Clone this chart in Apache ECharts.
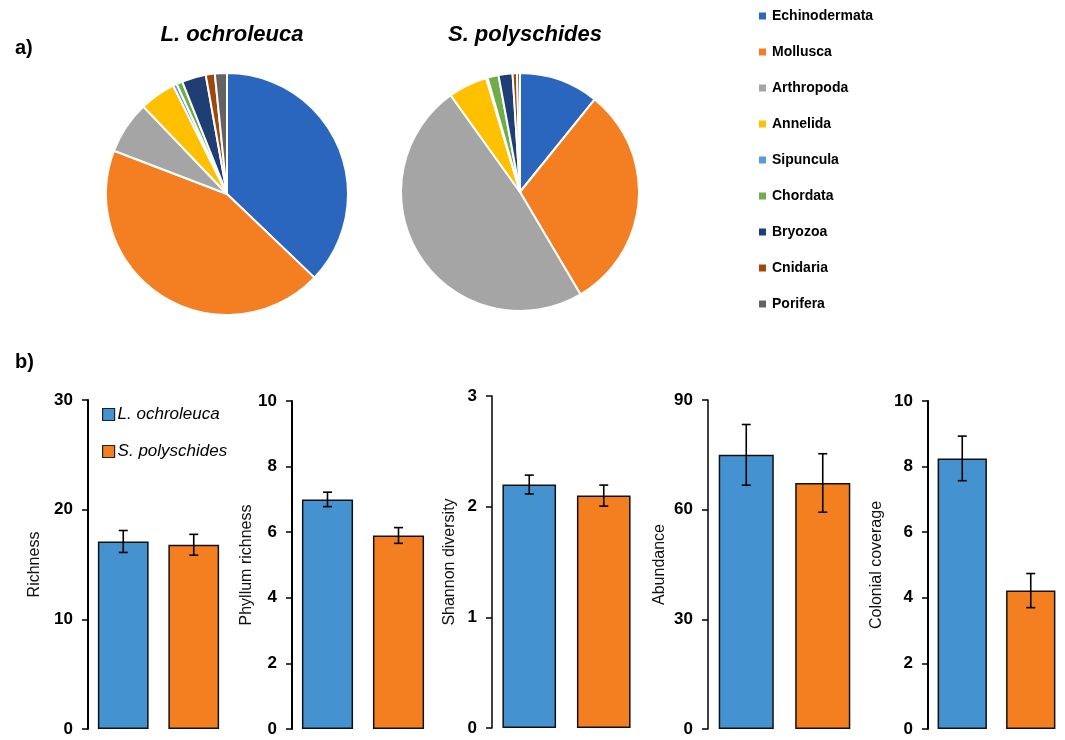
<!DOCTYPE html>
<html>
<head>
<meta charset="utf-8">
<script src="https://cdn.jsdelivr.net/npm/echarts@6/dist/echarts.min.js"></script>
<style>
  html, body { margin: 0; padding: 0; background: #fff; }
  #chart { width: 1065px; height: 740px; }
</style>
</head>
<body>
<div id="chart"></div>
<script>
// Phylum composition (% of individuals) for each kelp host
const phyla = ['Echinodermata', 'Mollusca', 'Arthropoda', 'Annelida', 'Sipuncula', 'Chordata', 'Bryozoa', 'Cnidaria', 'Porifera'];
const ochroShare = [37.0, 43.5, 7.0, 4.8, 0.5, 0.8, 3.2, 1.2, 1.6];
const polyShare = [10.8, 30.7, 48.6, 5.3, 0.2, 1.5, 1.9, 0.6, 0.4];
const phylumColors = ['#2B66BE', '#F47E22', '#A5A5A5', '#FFC000', '#5B9BD5', '#70AD47', '#1F3F74', '#9E480E', '#636363'];

// Community metrics (mean ± SE)
const hosts = ['L. ochroleuca', 'S. polyschides'];
const metrics = ['Richness', 'Phyllum richness', 'Shannon diversity', 'Abundance', 'Colonial coverage'];
const ochroMean = [17.1, 7.0, 2.2, 75.0, 8.25];
const ochroErr = [1.0, 0.22, 0.085, 8.3, 0.68];
const polyMean = [16.8, 5.9, 2.1, 67.3, 4.22];
const polyErr = [0.95, 0.24, 0.095, 8.0, 0.52];
const axisMax = [30, 10, 3, 90, 10];
const axisStep = [10, 2, 1, 30, 2];

const hostColors = ['#4492D0', '#F47F20'];
const FONT = '"Liberation Sans", Arial, sans-serif';

// panel geometry for the five bar plots
const panelLeft = [88, 292, 492, 708, 928];
const panelWidth = [141, 142, 149, 153, 152];
const panelTop = [400, 401, 396, 400, 401];
const panelBottom = [11, 11, 12, 11, 11];
const nameGap = [45, 35, 34, 40, 43];

const chart = echarts.init(document.getElementById('chart'));

const grids = [], xAxes = [], yAxes = [], series = [];

metrics.forEach((m, i) => {
  grids.push({ left: panelLeft[i], width: panelWidth[i], top: panelTop[i], bottom: panelBottom[i] });
  xAxes.push({
    type: 'category', gridIndex: i, data: hosts,
    axisLine: { show: false }, axisTick: { show: false }, axisLabel: { show: false }
  });
  yAxes.push({
    type: 'value', gridIndex: i, min: 0, max: axisMax[i], interval: axisStep[i],
    name: m, nameLocation: 'middle', nameGap: nameGap[i],
    nameTextStyle: { fontFamily: FONT, fontSize: 16, color: '#111' },
    axisLine: { show: true, lineStyle: { color: '#000', width: (i === 2 || i === 3) ? 1.5 : 2 } },
    axisTick: { show: true, inside: false, length: 6, lineStyle: { color: '#000', width: 1.5 } },
    axisLabel: { fontFamily: FONT, fontSize: 17, fontWeight: 'bold', color: '#000', margin: 15 },
    splitLine: { show: false }
  });
  const means = [ochroMean[i], polyMean[i]];
  const errs = [ochroErr[i], polyErr[i]];
  hosts.forEach((h, k) => {
    series.push({
      type: 'bar', name: h, xAxisIndex: i, yAxisIndex: i,
      data: k === 0 ? [means[0], '-'] : ['-', means[1]],
      barWidth: '72%', barGap: '-100%',
      itemStyle: { color: hostColors[k], borderColor: '#111', borderWidth: 1.5 },
      silent: true
    });
  });
  series.push({
    type: 'custom', xAxisIndex: i, yAxisIndex: i, z: 10, silent: true,
    data: means.map((v, k) => [k, v - errs[k], v + errs[k]]),
    renderItem: (params, api) => {
      const lo = api.coord([api.value(0), api.value(1)]);
      const hi = api.coord([api.value(0), api.value(2)]);
      const cap = 4.5;
      const style = { stroke: '#000', lineWidth: 1.6 };
      return {
        type: 'group',
        children: [
          { type: 'line', shape: { x1: lo[0], y1: lo[1], x2: hi[0], y2: hi[1] }, style },
          { type: 'line', shape: { x1: hi[0] - cap, y1: hi[1], x2: hi[0] + cap, y2: hi[1] }, style },
          { type: 'line', shape: { x1: lo[0] - cap, y1: lo[1], x2: lo[0] + cap, y2: lo[1] }, style }
        ]
      };
    }
  });
});

// composition pies
const pieCenters = [[227, 194], [520, 192]];
const pieRadius = [121, 119];
[ochroShare, polyShare].forEach((shares, p) => {
  series.push({
    type: 'pie', name: p === 0 ? 'compOchro' : 'compPoly',
    center: pieCenters[p], radius: pieRadius[p], startAngle: 90, clockwise: true,
    label: { show: false }, labelLine: { show: false }, silent: true,
    itemStyle: { borderColor: '#fff', borderWidth: 2 },
    data: phyla.map((n, k) => ({ name: n, value: shares[k], itemStyle: { color: phylumColors[k] } }))
  });
});

chart.setOption({
  backgroundColor: '#fff',
  animation: false,
  color: phylumColors,
  title: [
    { text: 'a)', left: 10, top: 33, textStyle: { fontFamily: FONT, fontSize: 20, fontWeight: 'bold', color: '#000' } },
    { text: 'b)', left: 10, top: 347, textStyle: { fontFamily: FONT, fontSize: 20, fontWeight: 'bold', color: '#000' } },
    { text: 'L. ochroleuca', left: 227, top: 19, textAlign: 'center',
      textStyle: { fontFamily: FONT, fontSize: 22, fontWeight: 'bold', fontStyle: 'italic', color: '#000' } },
    { text: 'S. polyschides', left: 520, top: 19, textAlign: 'center',
      textStyle: { fontFamily: FONT, fontSize: 22, fontWeight: 'bold', fontStyle: 'italic', color: '#000' } }
  ],
  legend: [
    {
      data: phyla, orient: 'vertical', left: 752, top: 4,
      icon: 'rect', itemWidth: 9, itemHeight: 9, itemGap: 22,
      selectedMode: false,
      textStyle: { fontFamily: FONT, fontSize: 14, fontWeight: 'bold', color: '#000' }
    },
    {
      data: hosts, orient: 'vertical', left: 97, top: 401,
      icon: 'rect', itemWidth: 12, itemHeight: 12, itemGap: 20,
      selectedMode: false,
      itemStyle: { borderColor: '#222', borderWidth: 1.2 },
      textStyle: { fontFamily: FONT, fontSize: 17, fontStyle: 'italic', color: '#000', padding: [0, 0, 0, -2] }
    }
  ],
  grid: grids,
  xAxis: xAxes,
  yAxis: yAxes,
  series: series
});
</script>
</body>
</html>
